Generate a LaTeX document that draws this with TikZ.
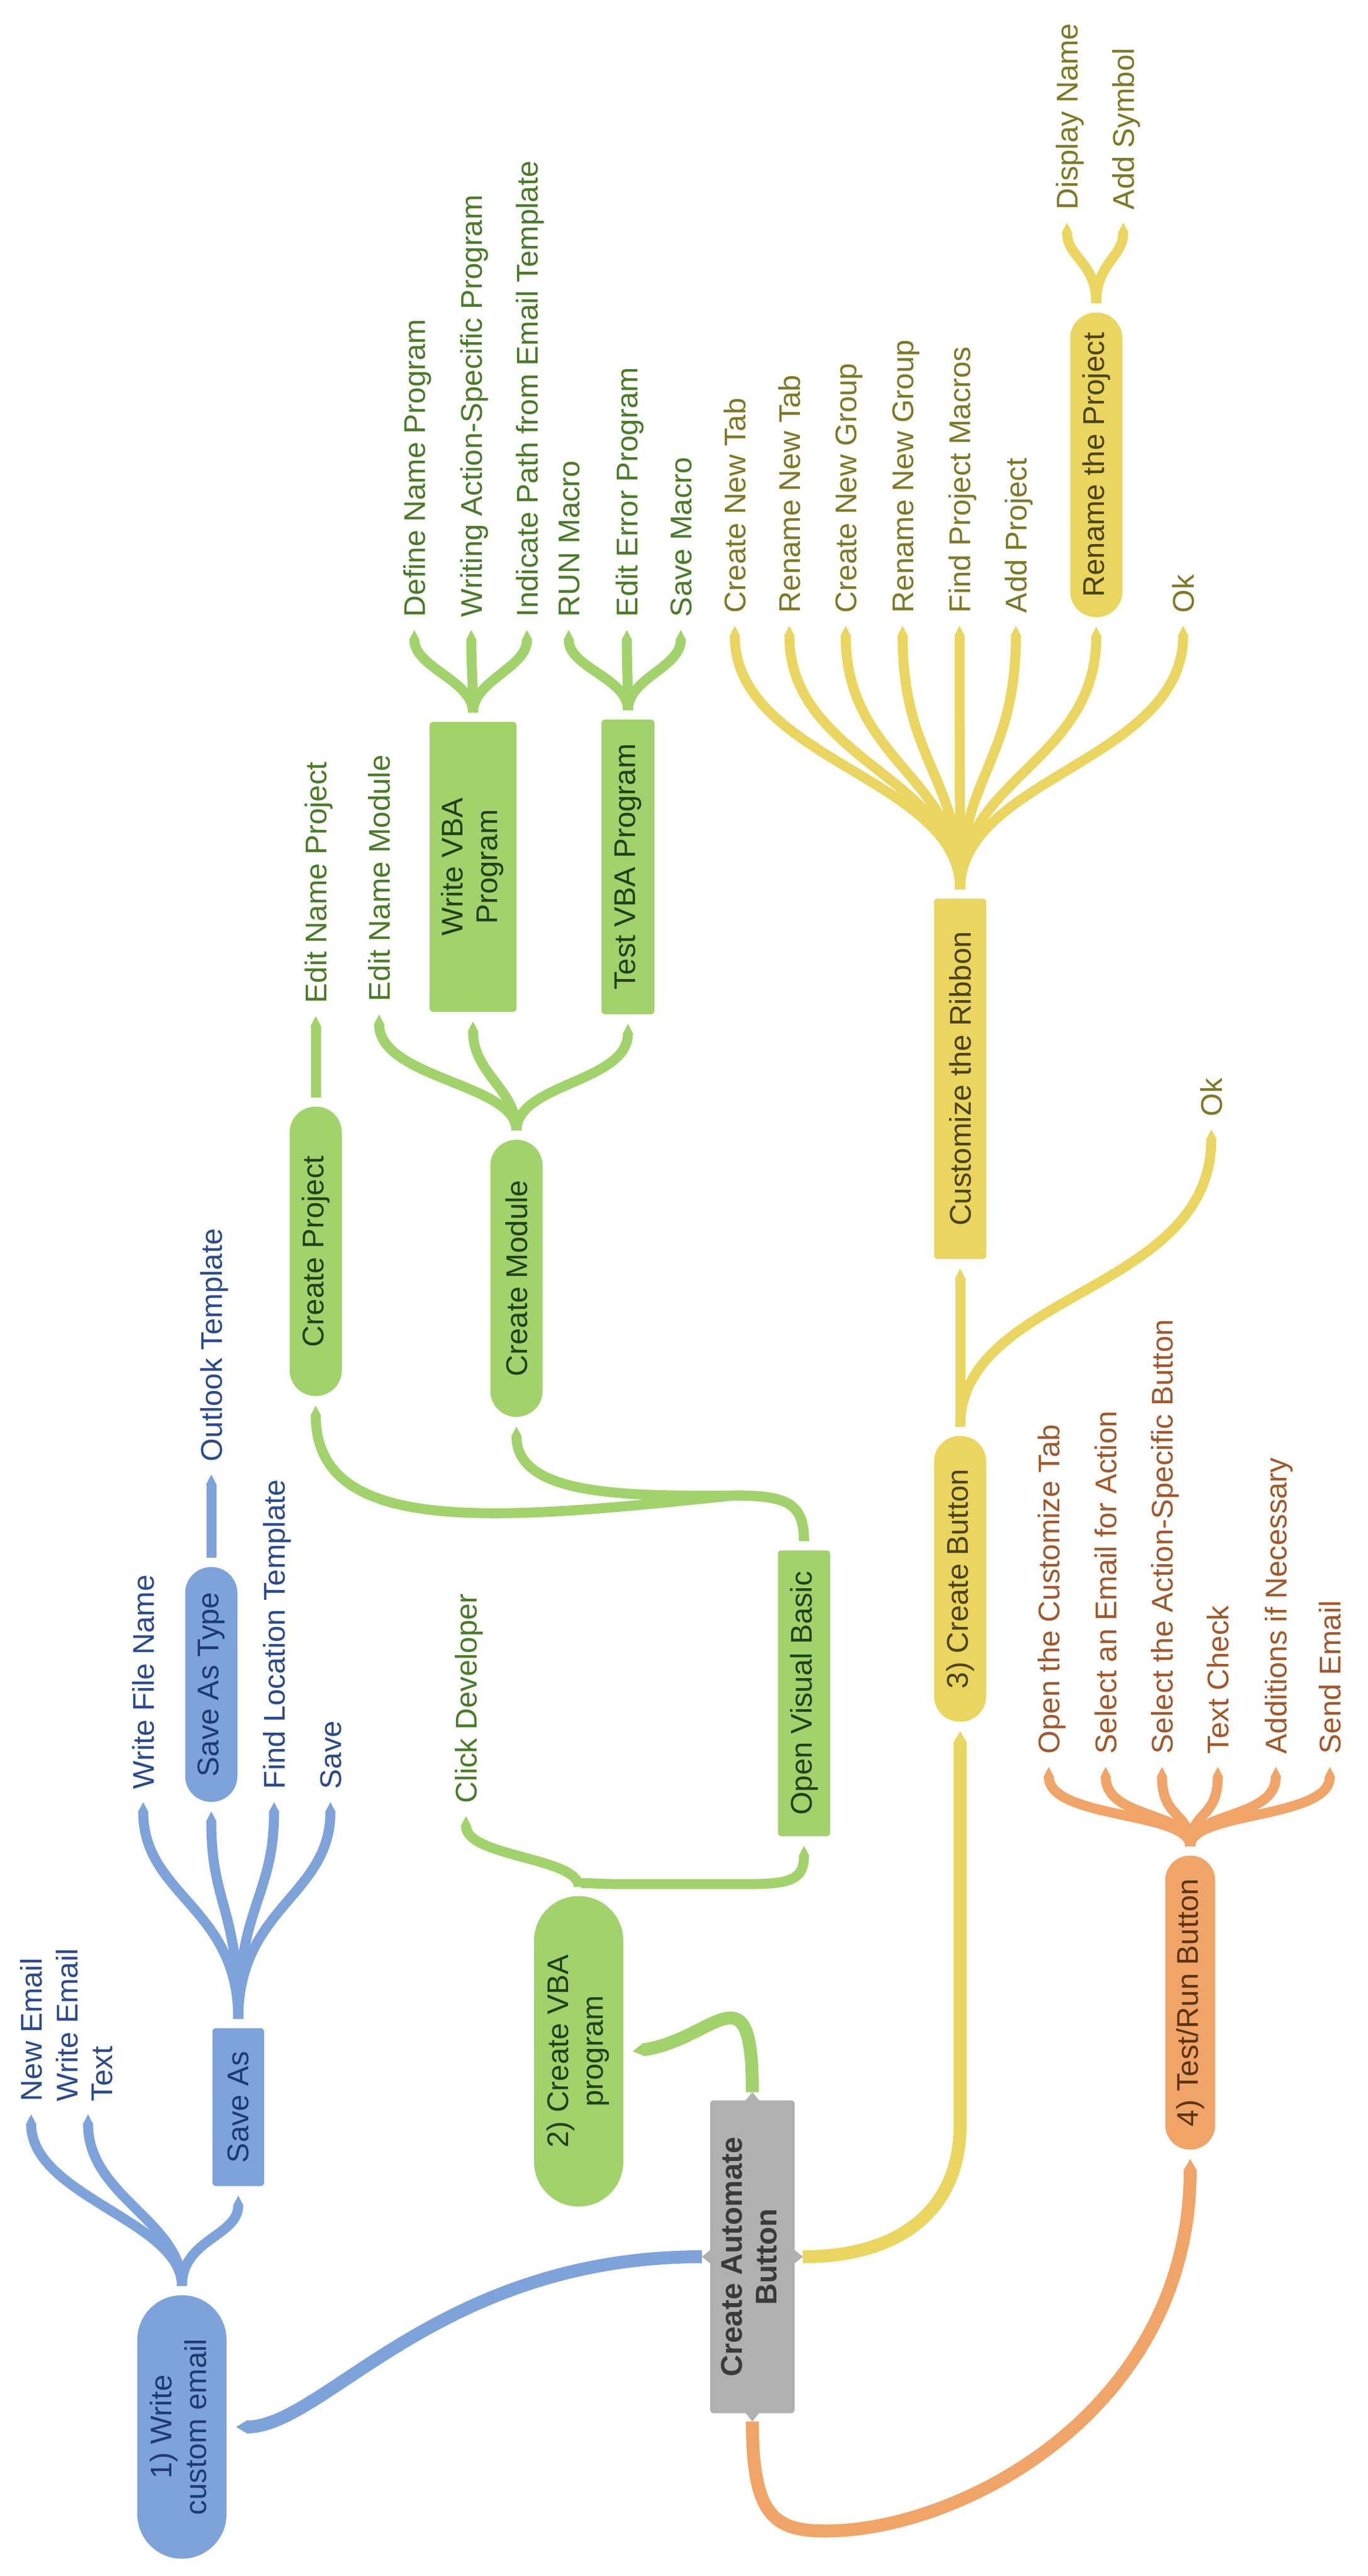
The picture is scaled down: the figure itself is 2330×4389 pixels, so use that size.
\documentclass[tikz,border=0pt]{standalone}
\usepackage{fontspec}
\setmainfont{Liberation Sans}
\usepackage{graphicx}
\usetikzlibrary{arrows.meta}
\pgfdeclarelayer{bg}
\pgfdeclarelayer{lines}
\pgfsetlayers{bg,lines,main}

\definecolor{bfill}{HTML}{7EA2DA}
\definecolor{btext}{HTML}{1E3A70}
\definecolor{bleaf}{HTML}{2B4A8C}
\definecolor{gfill}{HTML}{A1D26B}
\definecolor{gtext}{HTML}{22401A}
\definecolor{gleaf}{HTML}{4A7A28}
\definecolor{yfill}{HTML}{EAD560}
\definecolor{ytext}{HTML}{4D4414}
\definecolor{yleaf}{HTML}{7E7826}
\definecolor{ofill}{HTML}{F0A468}
\definecolor{otext}{HTML}{5C3412}
\definecolor{oleaf}{HTML}{A0582C}
\definecolor{rfill}{HTML}{B0B0B0}
\definecolor{rtext}{HTML}{3A3A3A}

\newcommand{\rtxt}[1]{\rotatebox{90}{#1}}
\newcommand{\rtwo}[2]{\rotatebox{90}{\begin{tabular}{@{}c@{}}#1\\#2\end{tabular}}}

\tikzset{
  txt/.style={font=\fontsize{51}{59}\selectfont},
  nbox/.style={txt, rectangle, rounded corners=6pt, inner sep=0pt, outer sep=16pt},
  npill/.style={nbox, rounded corners=44pt},
  leaf/.style={txt, rotate=90, anchor=west, inner xsep=22pt, inner ysep=0pt, text height=36pt, text depth=0pt, outer sep=0pt},
  leaftwo/.style={txt, rotate=90, anchor=west, inner xsep=22pt, inner ysep=0pt, outer sep=0pt},
  conn/.style={line width=17pt, -{Triangle[length=18pt,width=17pt]}},
  rconn/.style={line width=22pt, -{Triangle[length=20pt,width=22pt]}},
  bnode/.style={fill=bfill, text=btext},
  gnode/.style={fill=gfill, text=gtext},
  ynode/.style={fill=yfill, text=ytext},
  onode/.style={fill=ofill, text=otext}
}

\begin{document}
\begin{tikzpicture}[x=1pt,y=1pt]
\begin{pgfonlayer}{bg}
\fill[white] (0,0) rectangle (2330,-4389);
\end{pgfonlayer}
\useasboundingbox (0,0) rectangle (2330,-4389);

% ---------- main nodes ----------
\node[nbox, fill=rfill, text=rtext, font=\fontsize{51}{59}\selectfont\bfseries, minimum width=144pt, minimum height=533pt, outer sep=14pt] (root) at (1282,-3845) {\rtwo{Create Automate}{Button}};

\node[npill, bnode, rounded corners=76pt, minimum width=152pt, minimum height=449pt] (w1) at (310,-4135) {\rtwo{1) Write}{custom email}};
\node[nbox, bnode, minimum width=88pt, minimum height=269pt] (saveas) at (406,-3590) {\rtxt{Save As}};
\node[npill, bnode, minimum width=89pt, minimum height=400pt] (sat) at (360,-2870) {\rtxt{Save As Type}};

\node[npill, gnode, rounded corners=76pt, minimum width=152pt, minimum height=529pt] (cvba) at (986,-3495) {\rtwo{2) Create VBA}{program}};
\node[nbox, gnode, minimum width=89pt, minimum height=487pt] (ovb) at (1370,-2885) {\rtxt{Open Visual Basic}};
\node[npill, gnode, minimum width=89pt, minimum height=493pt] (cproj) at (538,-2132) {\rtxt{Create Project}};
\node[npill, gnode, minimum width=89pt, minimum height=472pt] (cmod) at (880,-2178) {\rtxt{Create Module}};
\node[nbox, gnode, minimum width=148pt, minimum height=494pt] (wvba) at (806,-1477) {\rtwo{Write VBA}{Program}};
\node[nbox, gnode, minimum width=90pt, minimum height=502pt] (tvba) at (1070,-1477) {\rtxt{Test VBA Program}};

\node[npill, ynode, minimum width=89pt, minimum height=487pt] (cbtn) at (1636,-2690) {\rtxt{3) Create Button}};
\node[nbox, ynode, minimum width=89pt, minimum height=614pt] (ribbon) at (1636,-1838) {\rtxt{Customize the Ribbon}};
\node[npill, ynode, minimum width=89pt, minimum height=519pt] (rproj) at (1868,-792) {\rtxt{Rename the Project}};

\node[npill, onode, rounded corners=42pt, minimum width=85pt, minimum height=501pt] (trun) at (2028,-3412) {\rtxt{4) Test/Run Button}};

% root pointers
\fill[rfill] ([xshift=-13pt,yshift=-16pt]root.north) -- (root.north) -- ([xshift=13pt,yshift=-16pt]root.north) -- cycle;
\fill[rfill] ([xshift=-13pt,yshift=16pt]root.south) -- (root.south) -- ([xshift=13pt,yshift=16pt]root.south) -- cycle;
\fill[rfill] ([xshift=16pt,yshift=-13pt]root.west) -- (root.west) -- ([xshift=16pt,yshift=13pt]root.west) -- cycle;
\fill[rfill] ([xshift=-16pt,yshift=-13pt]root.east) -- (root.east) -- ([xshift=-16pt,yshift=13pt]root.east) -- cycle;

% ---------- leaves ----------
% blue
\node[leaf, text=bleaf] (ne) at (53,-3602) {New Email};
\node[leaftwo, text=bleaf] (wet) at (150,-3602) {\begin{tabular}{@{}l@{}}Write Email\\Text\end{tabular}};
\node[leaf, text=bleaf] (wfn) at (244,-3070) {Write File Name};
\node[leaf, text=bleaf] (flt) at (467,-3070) {Find Location Template};
\node[leaf, text=bleaf] (sv) at (563,-3070) {Save};
\node[leaf, text=bleaf] (olt) at (360,-2512) {Outlook Template};
% green
\node[leaf, text=gleaf] (cd) at (794,-3094) {Click Developer};
\node[leaf, text=gleaf] (enp) at (538,-1731) {Edit Name Project};
\node[leaf, text=gleaf] (enm) at (646,-1728) {Edit Name Module};
\node[leaf, text=gleaf] (dnp) at (706,-1073) {Define Name Program};
\node[leaf, text=gleaf] (wasp) at (803,-1073) {Writing Action-Specific Program};
\node[leaf, text=gleaf] (ipt) at (898,-1073) {Indicate Path from Email Template};
\node[leaf, text=gleaf] (rm) at (969,-1073) {RUN Macro};
\node[leaf, text=gleaf] (eep) at (1068,-1073) {Edit Error Program};
\node[leaf, text=gleaf] (sm) at (1160,-1073) {Save Macro};
% yellow
\node[leaf, text=yleaf] (cnt) at (1252,-1066) {Create New Tab};
\node[leaf, text=yleaf] (rnt) at (1345,-1066) {Rename New Tab};
\node[leaf, text=yleaf] (cng) at (1441,-1066) {Create New Group};
\node[leaf, text=yleaf] (rng) at (1538,-1066) {Rename New Group};
\node[leaf, text=yleaf] (fpm) at (1635,-1066) {Find Project Macros};
\node[leaf, text=yleaf] (ap) at (1731,-1066) {Add Project};
\node[leaf, text=yleaf] (okone) at (2016,-1066) {Ok};
\node[leaf, text=yleaf] (dn) at (1818,-379) {Display Name};
\node[leaf, text=yleaf] (asym) at (1914,-379) {Add Symbol};
\node[leaf, text=yleaf] (oktwo) at (2064,-1924) {Ok};
% orange
\node[leaf, text=oleaf] (oct) at (1787,-3010) {Open the Customize Tab};
\node[leaf, text=oleaf] (sea) at (1884,-3010) {Select an Email for Action};
\node[leaf, text=oleaf] (sasb) at (1980,-3010) {Select the Action-Specific Button};
\node[leaf, text=oleaf] (tc) at (2075,-3010) {Text Check};
\node[leaf, text=oleaf] (ain) at (2174,-3010) {Additions if Necessary};
\node[leaf, text=oleaf] (se) at (2266,-3010) {Send Email};

% ---------- connectors ----------
\begin{pgfonlayer}{lines}
% from root
\draw[rconn, color=bfill] (root.west) .. controls +(-450,0) and +(150,0) .. (w1.east);
\draw[rconn, color=gfill] (root.north) .. controls +(0,220) and +(140,20) .. (cvba.east);
\draw[rconn, color=yfill] (root.east) .. controls +(172,0) and (1636,-3760) .. (1636,-3620) -- (cbtn.south);
\draw[rconn, color=ofill] (root.south) .. controls +(0,-165) and (1320,-4315) .. (1420,-4312) .. controls (1650,-4305) and (2028,-4100) .. (trun.south);

% blue branch
\draw[conn, color=bfill] (w1.north) .. controls +(0,110) and +(0,-140) .. (ne.west);
\draw[conn, color=bfill] (w1.north) .. controls +(0,110) and +(0,-140) .. (wet.west);
\draw[conn, color=bfill] (w1.north) .. controls +(0,80) and +(0,-70) .. (saveas.south);
\foreach \n in {wfn,flt,sv} \draw[conn, color=bfill] (saveas.north) .. controls +(0,190) and +(0,-160) .. (\n.west);
\draw[conn, color=bfill] (saveas.north) .. controls +(0,190) and +(0,-160) .. (sat.south);
\draw[conn, color=bfill] (sat.north) -- (olt.west);

% green branch
\draw[conn, color=gfill] (cvba.north) .. controls +(0,50) and +(0,-70) .. (cd.west);
\draw[conn, color=gfill] (cvba.north) .. controls +(0,10) and (1000,-3210) .. (1050,-3210) -- (1280,-3210) .. controls (1350,-3210) and (1370,-3200) .. (ovb.south);
\draw[conn, color=gfill] (ovb.north) .. controls (1370,-2560) and (1340,-2548) .. (1250,-2548) .. controls (850,-2590) and (538,-2620) .. (cproj.south);
\draw[conn, color=gfill] (ovb.north) .. controls (1370,-2560) and (1340,-2548) .. (1250,-2548) .. controls (1050,-2550) and (880,-2545) .. (cmod.south);
\draw[conn, color=gfill] (cproj.north) -- (enp.west);
\draw[conn, color=gfill] (cmod.north) .. controls +(0,80) and +(0,-110) .. (enm.west);
\draw[conn, color=gfill] (cmod.north) .. controls +(0,70) and +(0,-90) .. (wvba.south);
\draw[conn, color=gfill] (cmod.north) .. controls +(0,80) and +(0,-100) .. (tvba.south);
\foreach \n in {dnp,wasp,ipt} \draw[conn, color=gfill] (wvba.north) .. controls +(0,55) and +(0,-65) .. (\n.west);
\foreach \n in {rm,eep,sm} \draw[conn, color=gfill] (tvba.north) .. controls +(0,55) and +(0,-65) .. (\n.west);

% yellow branch
\draw[conn, color=yfill] (cbtn.north) -- (ribbon.south);
\draw[conn, color=yfill] (cbtn.north) .. controls +(0,230) and +(0,-280) .. (oktwo.west);
\foreach \n in {cnt,rnt,cng,rng,fpm,ap,okone} \draw[conn, color=yfill] (ribbon.north) .. controls +(0,190) and +(0,-230) .. (\n.west);
\draw[conn, color=yfill] (ribbon.north) .. controls +(0,190) and +(0,-230) .. (rproj.south);
\foreach \n in {dn,asym} \draw[conn, color=yfill] (rproj.north) .. controls +(0,70) and +(0,-60) .. (\n.west);

% orange branch
\foreach \n in {oct,sea,sasb,tc,ain,se} \draw[conn, color=ofill] (trun.north) .. controls +(0,60) and +(0,-90) .. (\n.west);
\end{pgfonlayer}
\end{tikzpicture}
\end{document}
